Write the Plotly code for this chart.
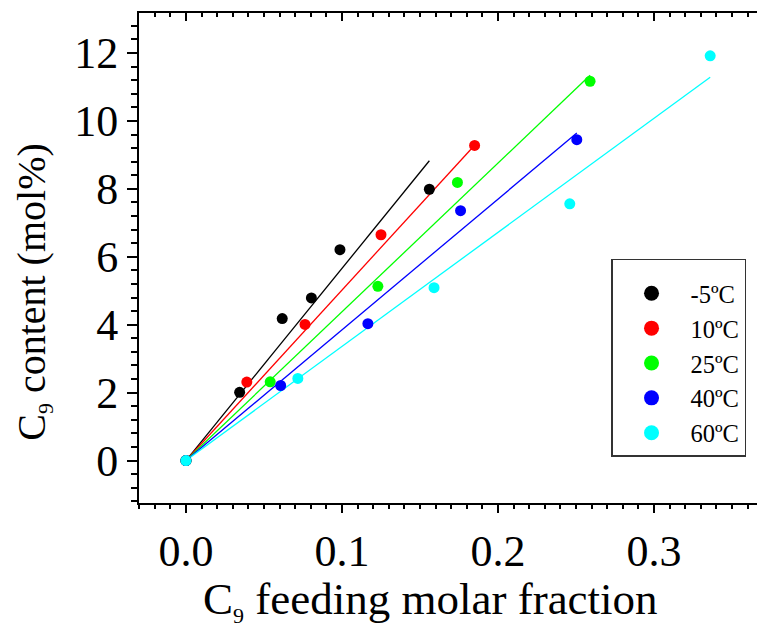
import plotly.graph_objects as go

# Copolymer composition vs. comonomer feed, one series per polymerisation temperature
temps = ["-5ºC", "10ºC", "25ºC", "40ºC", "60ºC"]
colors = ["#000000", "#FF0000", "#00FF00", "#0000FF", "#00FFFF"]

feed_m5 = [0.0, 0.0344, 0.0617, 0.0804, 0.0987, 0.156]
content_m5 = [0.0, 2.01, 4.18, 4.79, 6.21, 7.99]

feed_10 = [0.0, 0.039, 0.0763, 0.125, 0.185]
content_10 = [0.0, 2.31, 4.01, 6.65, 9.28]

feed_25 = [0.0, 0.054, 0.123, 0.174, 0.259]
content_25 = [0.0, 2.32, 5.13, 8.19, 11.17]

feed_40 = [0.0, 0.0607, 0.1166, 0.176, 0.2505]
content_40 = [0.0, 2.21, 4.03, 7.36, 9.45]

feed_60 = [0.0, 0.0717, 0.159, 0.246, 0.336]
content_60 = [0.0, 2.42, 5.09, 7.56, 11.92]

# slopes of the linear fits through the origin (mol% per unit feed fraction)
fit_slopes = [56.6, 50.2, 43.8, 38.5, 33.6]

feeds = [feed_m5, feed_10, feed_25, feed_40, feed_60]
contents = [content_m5, content_10, content_25, content_40, content_60]

FONT = "Liberation Serif"
SUB9 = "<sub><span style='font-size:22px'>9</span></sub>"

fig = go.Figure()

# fit lines first so the markers sit on top
for name, col, xs, k in zip(temps, colors, feeds, fit_slopes):
    x_end = max(xs)
    fig.add_trace(go.Scatter(
        x=[0.0, x_end], y=[0.0, k * x_end], mode="lines",
        line=dict(color=col, width=1.3), showlegend=False, hoverinfo="skip"))

for name, col, xs, ys in zip(temps, colors, feeds, contents):
    fig.add_trace(go.Scatter(
        x=xs, y=ys, mode="markers", name=name,
        marker=dict(color=col, size=11, line=dict(width=0)),
        showlegend=False))

# legend entries with slightly larger symbols
for name, col in zip(temps, colors):
    fig.add_trace(go.Scatter(
        x=[None], y=[None], mode="markers", name=name,
        marker=dict(color=col, size=15, line=dict(width=0)),
        showlegend=True))

x_range = [-0.0301, 0.366]
y_range = [-1.25, 13.18]

fig.update_layout(
    width=757, height=630,
    margin=dict(l=139, r=0, t=13, b=127),
    paper_bgcolor="white", plot_bgcolor="white",
    font=dict(family=FONT, color="black", size=44),
    showlegend=True,
    legend=dict(
        x=0.7638, y=0.498, xanchor="left", yanchor="top",
        bgcolor="white", bordercolor="#333333", borderwidth=1.5,
        font=dict(family=FONT, size=24.5, color="black"),
        title=dict(text=" ", font=dict(size=8)),
        itemwidth=68, tracegroupgap=0,
    ),
    xaxis=dict(
        range=x_range, tick0=0, dtick=0.1, tickformat=".1f",
        ticks="outside", ticklen=8, tickwidth=2, tickcolor="black",
        showline=True, linewidth=2, linecolor="black",
        showgrid=False, zeroline=False,
        tickfont=dict(family=FONT, size=44),
        minor=dict(tick0=0, dtick=0.01, ticks="outside", ticklen=4,
                   tickwidth=1.5, tickcolor="black", showgrid=False),
    ),
    xaxis2=dict(
        range=x_range, overlaying="x", side="top", anchor="y",
        tick0=0, dtick=0.1, showticklabels=False,
        ticks="inside", ticklen=8, tickwidth=2, tickcolor="black",
        showline=True, linewidth=2, linecolor="black",
        showgrid=False, zeroline=False,
        minor=dict(tick0=0, dtick=0.01, ticks="inside", ticklen=4,
                   tickwidth=1.5, tickcolor="black", showgrid=False),
    ),
    yaxis=dict(
        range=y_range, tick0=0, dtick=2,
        ticks="outside", ticklen=10, tickwidth=2, tickcolor="black",
        showline=True, linewidth=2, linecolor="black",
        showgrid=False, zeroline=False,
        tickfont=dict(family=FONT, size=44),
        minor=dict(tick0=0, dtick=0.4, ticks="outside", ticklen=6,
                   tickwidth=1.5, tickcolor="black", showgrid=False),
    ),
)

# invisible trace that activates the top axis
fig.add_trace(go.Scatter(x=[None], y=[None], xaxis="x2", yaxis="y",
                         showlegend=False, hoverinfo="skip"))

fig.add_annotation(
    text="C" + SUB9 + " feeding molar fraction",
    xref="paper", yref="paper", x=(430 - 139) / 618, y=-0.2,
    xanchor="center", yanchor="middle", showarrow=False,
    font=dict(family=FONT, size=45, color="black"))

fig.add_annotation(
    text="C" + SUB9 + " content (mol%)",
    xref="paper", yref="paper", x=-0.17, y=(503 - 292) / 489.7,
    xanchor="center", yanchor="middle", textangle=-90, showarrow=False,
    font=dict(family=FONT, size=40, color="black"))

fig.write_html("out.html")
